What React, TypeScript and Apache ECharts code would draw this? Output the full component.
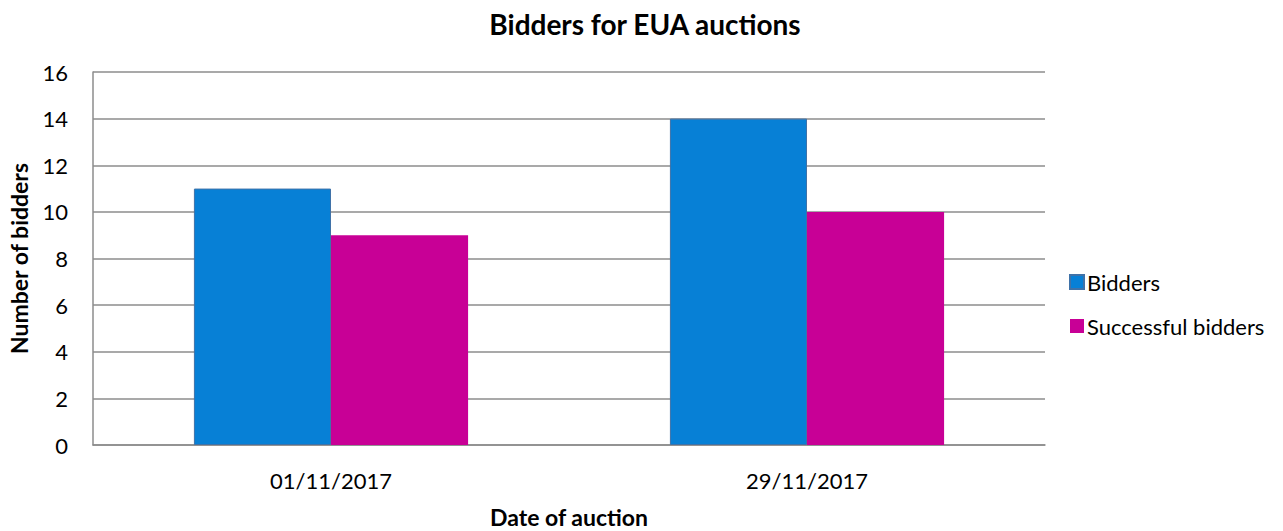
import React, { useEffect, useRef } from "react";
import * as echarts from "echarts";

const categories = ["01/11/2017", "29/11/2017"];
const bidders = [11, 14];
const successfulBidders = [9, 10];
const yTicks = { min: 0, max: 16, interval: 2 };

const FONT = "Lato, 'Open Sans', sans-serif";

export default function App() {
  const ref = useRef<HTMLDivElement>(null);
  useEffect(() => {
    if (!ref.current) return;
    const chart = echarts.init(ref.current, undefined, { renderer: "svg" });
    chart.setOption({
      animation: false,
      textStyle: { fontFamily: FONT },
      title: {
        text: "Bidders for EUA auctions",
        left: 640,
        top: 5,
        textAlign: "center",
        textStyle: { fontSize: 28, fontWeight: "bold", color: "#000", fontFamily: FONT },
      },
      legend: {
        orient: "vertical",
        left: 1064,
        top: 266,
        itemWidth: 14,
        itemHeight: 14,
        itemGap: 22,
        icon: "rect",
        textStyle: { fontSize: 22, color: "#000", fontFamily: FONT, padding: [0, 0, 0, -2] },
        data: ["Bidders", "Successful bidders"],
      },
      grid: { left: 93, right: 238, top: 72, bottom: 86, containLabel: false, outerBoundsMode: "none" },
      xAxis: {
        type: "category",
        data: categories,
        name: "Date of auction",
        nameLocation: "middle",
        nameGap: 60,
        nameTextStyle: { fontSize: 23, fontWeight: "bold", color: "#000", fontFamily: FONT },
        axisLine: { show: true, lineStyle: { color: "#8c8c8c", width: 1.5 } },
        axisTick: { show: false },
        axisLabel: { fontSize: 22, color: "#000", margin: 24, fontFamily: FONT },
      },
      yAxis: {
        type: "value",
        min: yTicks.min,
        max: yTicks.max,
        interval: yTicks.interval,
        name: "Number of bidders",
        nameLocation: "middle",
        nameGap: 63,
        nameRotate: 90,
        nameTextStyle: { fontSize: 23, fontWeight: "bold", color: "#000", fontFamily: FONT },
        axisLine: { show: true, lineStyle: { color: "#8c8c8c", width: 1.5 } },
        axisTick: { show: false },
        axisLabel: { fontSize: 22, color: "#000", margin: 25, fontFamily: FONT },
        splitLine: { show: true, lineStyle: { color: "#8c8c8c", width: 1.5 } },
      },
      series: [
        {
          name: "Bidders",
          type: "bar",
          data: bidders,
          barGap: "0%",
          barCategoryGap: "42.4%",
          itemStyle: { color: "#0780d6", borderColor: "#3f72a8", borderWidth: 1 },
        },
        {
          name: "Successful bidders",
          type: "bar",
          data: successfulBidders,
          itemStyle: { color: "#c80096" },
        },
      ],
    });
    return () => chart.dispose();
  }, []);
  return (
    <div
      ref={ref}
      style={{ position: "fixed", left: 0, top: 0, width: 1283, height: 531, background: "#fff" }}
    />
  );
}
